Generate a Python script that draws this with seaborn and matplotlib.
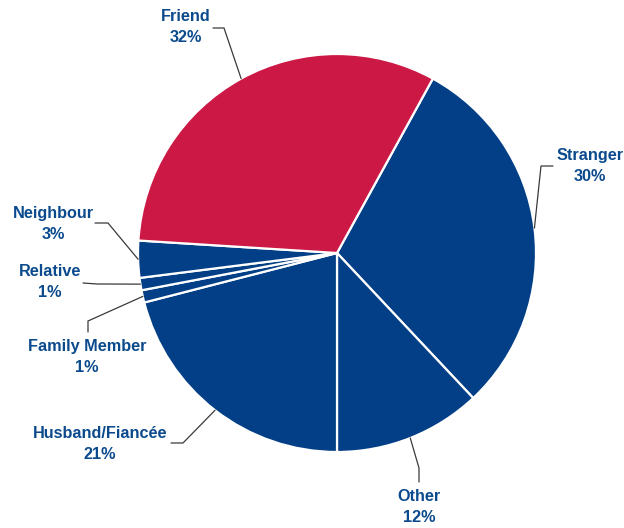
import numpy as np
import matplotlib
matplotlib.use("Agg")
import matplotlib.pyplot as plt
import seaborn as sns

# Relationship of offender to victim (share of incidents, %)
categories = ["Stranger", "Other", "Husband/Fiancée", "Family Member",
              "Relative", "Neighbour", "Friend"]
shares = [30, 12, 21, 1, 1, 3, 32]
label_text = [f"{c}\n{s}%" for c, s in zip(categories, shares)]

BLUE = "#023F86"
RED = "#CC1844"
TEXT = "#0B4A8D"
slice_colors = [BLUE, BLUE, BLUE, BLUE, BLUE, BLUE, RED]

sns.set_theme(style="white")
plt.rcParams["font.family"] = ["Liberation Sans", "DejaVu Sans"]

W, H = 624, 528
fig = plt.figure(figsize=(W / 100, H / 100), dpi=100)
ax = fig.add_axes([0, 0, 1, 1])


def px(x, y):
    """Pixel position (origin top-left) to axes data coordinates."""
    return (x, H - y)


cx, cy = px(337, 253)
R = 199
wedges, _ = ax.pie(shares, colors=slice_colors, startangle=61.2,
                   counterclock=False, center=(cx, cy), radius=R, frame=True,
                   wedgeprops=dict(edgecolor="white", linewidth=1.6))

# label placement: text centre, elbow of the leader, leader tail (pixels)
layout = [
    ((590, 166), (541, 166), (553, 166)),
    ((419, 507), (419, 468), (419, 482)),
    ((100, 444), (183, 443), (171, 443)),
    ((87, 357), (88, 321), (88, 332)),
    ((50, 282), (97, 284), (83, 283)),
    ((53, 224), (108, 223), (95, 223)),
    ((186, 27), (224, 28), (213, 28)),
]

for w, txt, (tpos, elbow, tail) in zip(wedges, label_text, layout):
    mid = np.deg2rad((w.theta1 + w.theta2) / 2)
    ex, ey = cx + R * np.cos(mid), cy + R * np.sin(mid)
    bx, by = px(*elbow)
    tx, ty = px(*tail)
    ax.plot([ex, bx, tx], [ey, by, ty], color="#3a3a3a", lw=0.9,
            solid_joinstyle="miter", zorder=3)
    ax.text(*px(*tpos), txt, ha="center", va="center", color=TEXT,
            fontsize=11.7, fontweight="bold", linespacing=1.55)

ax.set_xlim(0, W)
ax.set_ylim(0, H)
ax.set_aspect("equal")
ax.axis("off")
fig.savefig("out.png", dpi=100, facecolor="white")
